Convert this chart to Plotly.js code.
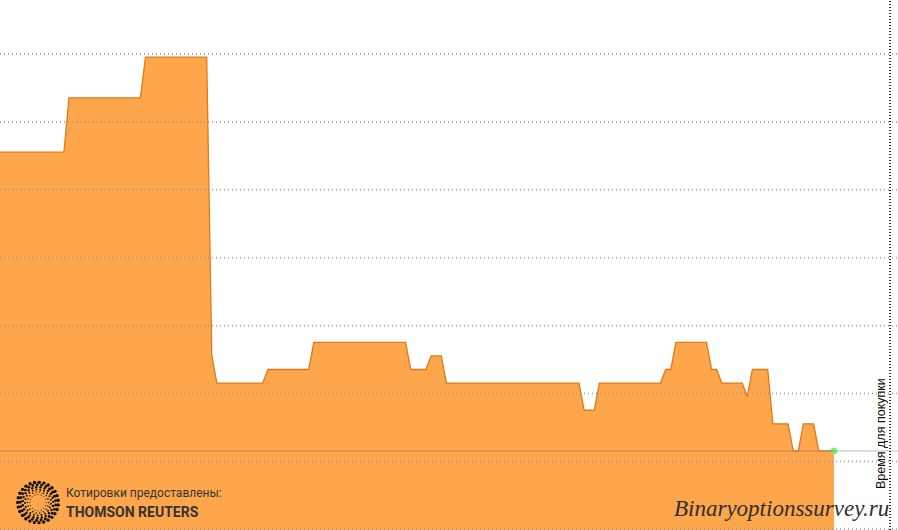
<!DOCTYPE html>
<html>
<head>
<meta charset="utf-8">
<script src="https://cdn.plot.ly/plotly-3.0.1.min.js"></script>
<style>html,body{margin:0;padding:0;background:#fff;}#chart{width:898px;height:530px;}</style>
</head>
<body>
<div id="chart"></div>
<script>
// time in seconds (sample index) of each vertex of the quote line
const times = [-1, 12, 13, 27, 28, 40, 41, 42, 51, 52, 60, 61, 79, 80, 83, 84, 86, 87, 113, 114, 116, 117, 129, 130, 131, 132, 138, 139, 140, 141, 145, 146, 147, 150, 151, 154, 155, 156, 157, 159, 160, 163];
// quotes at those times
const prices = [1.13222, 1.13222, 1.13226, 1.13226, 1.13229, 1.13229, 1.13207, 1.13205, 1.13205, 1.13206, 1.13206, 1.13208, 1.13208, 1.13206, 1.13206, 1.13207, 1.13207, 1.13205, 1.13205, 1.13203, 1.13203, 1.13205, 1.13205, 1.13206, 1.13206, 1.13208, 1.13208, 1.13206, 1.13206, 1.13205, 1.13205, 1.13204, 1.13206, 1.13206, 1.13202, 1.13202, 1.13200, 1.13200, 1.13202, 1.13202, 1.13200, 1.13200];
const currentPrice = 1.13200;
const purchaseTime = 174;
const gridStart = 1.1319423;
const gridStep = 0.00005;
const labels = {
  purchase: "Время для покупки",
  quotes: "Котировки предоставлены:",
  provider: "THOMSON REUTERS",
  watermark: "Binaryoptionssurvey.ru"
};

const xRange = [-0.5294, 175.55];
const yRange = [1.1319418, 1.1323321];

// logo svg (dot rings)
function logoSVG() {
  let s = '<svg xmlns="http://www.w3.org/2000/svg" width="44" height="44" viewBox="0 0 44 44">';
  const rings = [[8.2, 0.55], [10.6, 0.8], [13.0, 1.0], [15.4, 1.2], [17.8, 1.45], [20.3, 1.7]];
  rings.forEach(([r, d], i) => {
    const n = Math.round(2 * Math.PI * r / (2.6 + d * 1.3));
    const off = i * 0.35;
    for (let j = 0; j < n; j++) {
      const a = off + j * 2 * Math.PI / n;
      s += '<circle cx="' + (22 + r * Math.cos(a)).toFixed(2) + '" cy="' + (22 + r * Math.sin(a)).toFixed(2) + '" r="' + d + '" fill="#111"/>';
    }
  });
  s += '</svg>';
  return 'data:image/svg+xml;base64,' + btoa(s);
}

const shapes = [];
for (let v = gridStart; v <= yRange[1]; v += gridStep) {
  shapes.push({type: 'line', xref: 'paper', yref: 'y', x0: 0, x1: 1, y0: v, y1: v, layer: 'above',
    line: {color: 'rgba(150,150,150,0.8)', width: 2, dash: '1px,3px'}});
}
shapes.push({type: 'line', xref: 'paper', yref: 'y', x0: 0, x1: 1, y0: currentPrice, y1: currentPrice, layer: 'above',
  line: {color: 'rgba(110,110,110,0.45)', width: 1}});
shapes.push({type: 'line', xref: 'x', yref: 'paper', x0: purchaseTime, x1: purchaseTime, y0: 0, y1: 1, layer: 'above',
  line: {color: '#000', width: 1.6, dash: '1px,2px'}});

const traces = [
  {x: times, y: prices, type: 'scatter', mode: 'lines', fill: 'tozeroy', fillcolor: '#FEA64C',
   line: {color: '#E07A16', width: 1.3}, hoverinfo: 'skip'},
  {x: [times[times.length - 1]], y: [prices[prices.length - 1]], type: 'scatter', mode: 'markers',
   marker: {size: 7, color: 'rgba(110,235,110,0.85)'}, hoverinfo: 'skip'}
];

const layout = {
  width: 898, height: 530,
  margin: {l: 0, r: 0, t: 0, b: 0},
  paper_bgcolor: '#fff', plot_bgcolor: '#fff',
  showlegend: false,
  xaxis: {range: xRange, showgrid: false, zeroline: false, showticklabels: false, ticks: '', showline: false},
  yaxis: {range: yRange, showgrid: false, zeroline: false, showticklabels: false, ticks: '', showline: false},
  shapes: shapes,
  images: [{source: logoSVG(), xref: 'paper', yref: 'paper', x: 16 / 898, y: (530 - 480.5) / 530,
    sizex: 44 / 898, sizey: 44 / 530, xanchor: 'left', yanchor: 'top', sizing: 'stretch', layer: 'above'}],
  annotations: [
    {text: labels.purchase, xref: 'paper', yref: 'paper', x: 881 / 898, y: (530 - 434) / 530,
     xanchor: 'center', yanchor: 'middle', textangle: -90, showarrow: false,
     font: {family: 'Liberation Sans, Arial, sans-serif', size: 12.5, color: '#111'}},
    {text: labels.quotes, xref: 'paper', yref: 'paper', x: 64 / 898, y: (530 - 492.5) / 530,
     xanchor: 'left', yanchor: 'middle', showarrow: false,
     font: {family: 'Roboto, sans-serif', size: 12, color: '#333'}},
    {text: '<b>' + labels.provider + '</b>', xref: 'paper', yref: 'paper', x: 64 / 898, y: (530 - 512) / 530,
     xanchor: 'left', yanchor: 'middle', showarrow: false,
     font: {family: 'Roboto, sans-serif', size: 14, color: '#333'}},
    {text: '<i>' + labels.watermark + '</i>', xref: 'paper', yref: 'paper', x: 891 / 898, y: (530 - 508) / 530,
     xanchor: 'right', yanchor: 'middle', showarrow: false,
     font: {family: 'Liberation Serif, serif', size: 23, color: '#2e2e2e'}}
  ]
};

Plotly.newPlot('chart', traces, layout, {displayModeBar: false, staticPlot: true});
</script>
</body>
</html>
